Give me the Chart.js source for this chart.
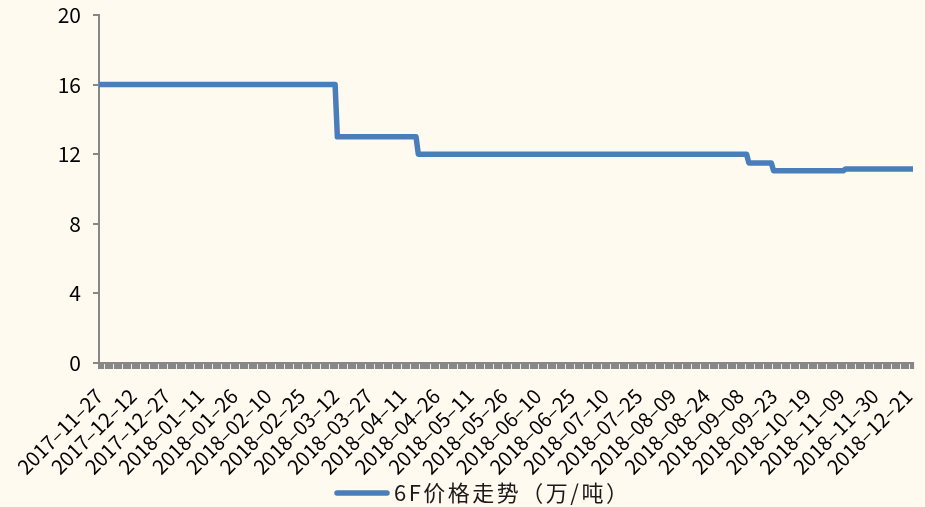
<!DOCTYPE html>
<html>
<head>
<meta charset="utf-8">
<script src="https://cdn.jsdelivr.net/npm/chart.js@4/dist/chart.umd.min.js"></script>
<style>
  html, body { margin: 0; padding: 0; background: #FFFAF0; }
  #wrap { width: 925px; height: 507px; }
</style>
</head>
<body>
<div id="wrap"><canvas id="c" width="925" height="507"></canvas></div>
<script>
// Date labels shown on the x axis, one every 15 trading days
const tickDates = [
  '2017–11–27', '2017–12–12', '2017–12–27', '2018–01–11', '2018–01–26',
  '2018–02–10', '2018–02–25', '2018–03–12', '2018–03–27', '2018–04–11',
  '2018–04–26', '2018–05–11', '2018–05–26', '2018–06–10', '2018–06–25',
  '2018–07–10', '2018–07–25', '2018–08–09', '2018–08–24', '2018–09–08',
  '2018–09–23', '2018–10–19', '2018–11–09', '2018–11–30', '2018–12–21'
];
const labelEvery = 15;
const lastDay = 362;

// Price series: trading-day index and price (万/吨) where the price changes
const dayIndex = [0, 105, 106, 141, 142, 288, 289, 299, 300, 331, 332, 362];
const price    = [16, 16, 13, 13, 12, 12, 11.5, 11.5, 11.05, 11.05, 11.15, 11.15];

const yTicks = [0, 4, 8, 12, 16, 20];
const seriesName = '6F价格走势（万/吨）';

const font = "'Noto Sans CJK SC', 'Noto Sans', sans-serif";
const axisGray = '#878787';
const lineBlue = '#4a7ebb';
const legendSpace = 30;

// Legend: a short thick line sample followed by the series name, under the axis
const bottomLegend = {
  id: 'bottomLegend',
  beforeDraw(chart) {
    chart.ctx.letterSpacing = '0px';
  },
  afterDraw(chart) {
    const ctx = chart.ctx;
    const ds = chart.data.datasets[0];
    const y = chart.height - legendSpace / 2 + 1;
    const sample = 54, gap = 5;
    const x0 = 335;
    ctx.save();
    ctx.font = `22px ${font}`;
    ctx.letterSpacing = '2.5px';
    ctx.strokeStyle = ds.borderColor;
    ctx.lineWidth = 5.5;
    ctx.lineCap = 'round';
    ctx.beginPath();
    ctx.moveTo(x0 + 2, y);
    ctx.lineTo(x0 + sample - 2, y);
    ctx.stroke();
    ctx.fillStyle = '#1a1a1a';
    ctx.textAlign = 'left';
    ctx.textBaseline = 'middle';
    ctx.fillText(ds.label, x0 + sample + gap, y);
    ctx.letterSpacing = '0px';
    ctx.restore();
    ctx.letterSpacing = '0px';
  }
};

new Chart(document.getElementById('c'), {
  type: 'line',
  data: {
    datasets: [{
      label: seriesName,
      data: dayIndex.map((d, i) => ({ x: d, y: price[i] })),
      borderColor: lineBlue,
      backgroundColor: lineBlue,
      borderWidth: 5.5,
      borderCapStyle: 'round',
      borderJoinStyle: 'round',
      pointRadius: 0,
      tension: 0,
      fill: false
    }]
  },
  plugins: [bottomLegend],
  options: {
    responsive: false,
    animation: false,
    layout: { padding: { top: 15, right: 12, left: 0, bottom: legendSpace } },
    plugins: {
      tooltip: { enabled: false },
      legend: { display: false }
    },
    scales: {
      x: {
        type: 'linear',
        min: 0,
        max: lastDay,
        afterFit: (s) => { s.height = 507 - 363 - legendSpace; s.paddingRight = 0; s.paddingLeft = 0; },
        afterBuildTicks: (s) => {
          const t = [];
          for (let v = 0; v <= lastDay; v++) t.push({ value: v });
          s.ticks = t;
        },
        border: { display: true, color: axisGray, width: 2 },
        grid: {
          display: true,
          drawOnChartArea: false,
          drawTicks: true,
          tickLength: 6,
          color: axisGray,
          lineWidth: 2.1
        },
        ticks: {
          autoSkip: false,
          minRotation: 45,
          maxRotation: 45,
          padding: 15,
          color: '#000',
          font: { family: font, size: 20 },
          callback: (v) => (v % labelEvery === 0 && tickDates[v / labelEvery]) ? tickDates[v / labelEvery] : ''
        }
      },
      y: {
        min: 0,
        max: 20,
        afterFit: (s) => { s.width = 99; s.paddingTop = 0; s.paddingBottom = 0; },
        afterBuildTicks: (s) => { s.ticks = yTicks.map(v => ({ value: v })); },
        border: { display: true, color: axisGray, width: 2 },
        grid: {
          display: true,
          drawOnChartArea: false,
          drawTicks: true,
          tickLength: 6,
          color: axisGray,
          lineWidth: 2
        },
        ticks: {
          padding: 12,
          color: '#000',
          font: { family: font, size: 21 }
        }
      }
    }
  }
});
</script>
</body>
</html>
